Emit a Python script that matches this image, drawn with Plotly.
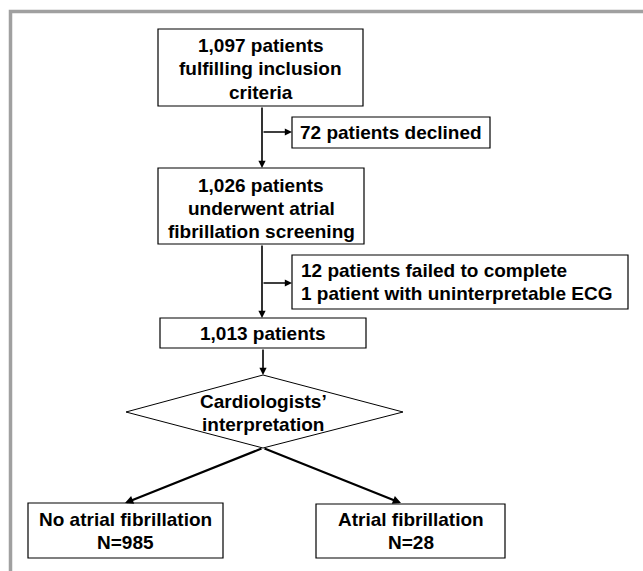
import plotly.graph_objects as go

# ---- data (counts in the flow) ----
total_eligible = 1097
declined = 72
screened = 1026
failed_complete = 12
uninterpretable = 1
analysed = 1013
no_af = 985
af = 28

decision_label = ["Cardiologists’", "interpretation"]
outcome_labels = ["No atrial fibrillation", "Atrial fibrillation"]
outcome_counts = [no_af, af]

# ---- layout geometry (pixel space) ----
W, H = 643, 571
FONT = "Liberation Sans, Arial, sans-serif"
FS = 19

boxes = [
    dict(x0=158, x1=363, y0=29, y1=106,
         lines=[f"{total_eligible:,} patients", "fulfilling inclusion", "criteria"],
         ys=[45, 68.5, 92], align="center"),
    dict(x0=292, x1=490, y0=117, y1=148,
         lines=[f"{declined} patients declined"], ys=[132.5], align="center"),
    dict(x0=158, x1=364, y0=168, y1=244,
         lines=[f"{screened:,} patients", "underwent atrial", "fibrillation screening"],
         ys=[185, 208, 231], align="center"),
    dict(x0=292, x1=628, y0=255, y1=309,
         lines=[f"{failed_complete} patients failed to complete",
                f"{uninterpretable} patient with uninterpretable ECG"],
         ys=[270, 293], align="left", tx=299),
    dict(x0=160, x1=366, y0=318, y1=348,
         lines=[f"{analysed:,} patients"], ys=[333], align="center"),
    dict(x0=28, x1=223, y0=503, y1=558,
         lines=[outcome_labels[0], f"N={outcome_counts[0]}"], ys=[519, 542], align="center"),
    dict(x0=316, x1=505, y0=504, y1=558,
         lines=[outcome_labels[1], f"N={outcome_counts[1]}"], ys=[519, 542], align="center"),
]

diamond = dict(top=(263, 375), right=(403, 412), bottom=(263, 448), left=(126, 412),
               ys=[401, 424])

arrows = [  # (tail_x, tail_y, head_x, head_y, width, size)
    (262, 106, 262, 168, 1.6, 0.9),
    (262, 132, 292, 132, 1.6, 0.9),
    (262, 244, 262, 318, 1.6, 0.9),
    (262, 283, 292, 283, 1.6, 0.9),
    (263, 348, 263, 375, 1.6, 0.9),
    (263, 448, 125, 503, 2.2, 0.75),
    (263, 448, 401, 503, 2.2, 0.75),
]

fig = go.Figure()
shapes = []
annotations = []

# grey frame (top and left)
shapes.append(dict(type="path", path=f"M 10.5 {H} L 10.5 11.5 L {W} 11.5",
                   line=dict(color="#a0a0a0", width=3.5), xref="x", yref="y"))

for b in boxes:
    shapes.append(dict(type="rect", x0=b["x0"], x1=b["x1"], y0=b["y0"], y1=b["y1"],
                       line=dict(color="black", width=1.2), fillcolor="white",
                       xref="x", yref="y", layer="below"))
    for t, y in zip(b["lines"], b["ys"]):
        if b["align"] == "center":
            annotations.append(dict(x=(b["x0"] + b["x1"]) / 2, y=y, text=f"<b>{t}</b>",
                                    showarrow=False, xanchor="center", yanchor="middle",
                                    font=dict(family=FONT, size=FS, color="black"),
                                    xref="x", yref="y"))
        else:
            annotations.append(dict(x=b["tx"], y=y, text=f"<b>{t}</b>",
                                    showarrow=False, xanchor="left", yanchor="middle",
                                    font=dict(family=FONT, size=FS, color="black"),
                                    xref="x", yref="y"))

d = diamond
shapes.append(dict(type="path",
                   path=f"M {d['top'][0]} {d['top'][1]} L {d['right'][0]} {d['right'][1]} "
                        f"L {d['bottom'][0]} {d['bottom'][1]} L {d['left'][0]} {d['left'][1]} Z",
                   line=dict(color="black", width=1), fillcolor="rgba(0,0,0,0)",
                   xref="x", yref="y"))
for t, y in zip(decision_label, d["ys"]):
    annotations.append(dict(x=d["top"][0], y=y, text=f"<b>{t}</b>", showarrow=False,
                            xanchor="center", yanchor="middle",
                            font=dict(family=FONT, size=FS, color="black"),
                            xref="x", yref="y"))

for tx, ty, hx, hy, w, s in arrows:
    annotations.append(dict(x=hx, y=hy, ax=tx, ay=ty, xref="x", yref="y",
                            axref="x", ayref="y", text="", showarrow=True,
                            arrowhead=2, arrowsize=s, arrowwidth=w,
                            arrowcolor="black", standoff=0, startstandoff=0))

fig.update_layout(
    width=W, height=H,
    margin=dict(l=0, r=0, t=0, b=0),
    paper_bgcolor="white", plot_bgcolor="white",
    xaxis=dict(range=[0, W], visible=False, fixedrange=True),
    yaxis=dict(range=[H, 0], visible=False, fixedrange=True),
    shapes=shapes, annotations=annotations, showlegend=False,
)

fig.write_html("out.html", post_script="document.body.style.margin='0';",
               config={"displayModeBar": False})
